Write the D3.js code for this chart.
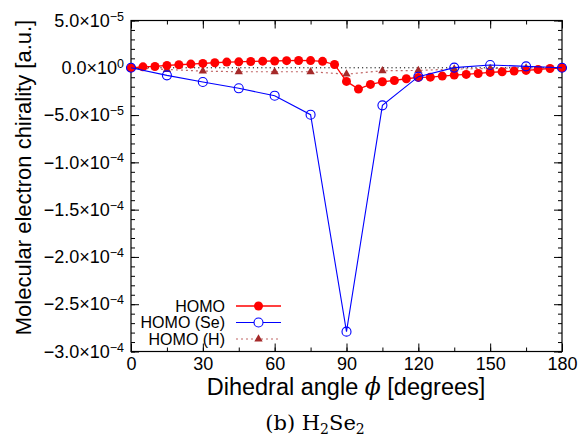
<!DOCTYPE html>
<html>
<head>
<meta charset="utf-8">
<script src="https://cdn.jsdelivr.net/npm/d3@7"></script>
<style>
  body { margin: 0; background: #fff; }
  svg { display: block; font-family: "Liberation Sans", Arial, sans-serif; }
</style>
</head>
<body>
<div id="chart"></div>
<script>
// angles (degrees)
const anglesFine = [0, 5, 10, 15, 20, 25, 30, 35, 40, 45, 50, 55, 60, 65, 70, 75, 80, 85, 90,
    95, 100, 105, 110, 115, 120, 125, 130, 135, 140, 145, 150, 155, 160, 165, 170, 175, 180];
const anglesCoarse = [0, 15, 30, 45, 60, 75, 90, 105, 120, 135, 150, 165, 180];

// values in units of 1e-5 a.u.
const homo = [0, 0.10, 0.14, 0.25, 0.32, 0.39, 0.46, 0.53, 0.60, 0.63, 0.67, 0.70, 0.72, 0.75, 0.77, 0.76, 0.68, 0.35,
    -1.44, -2.25, -1.76, -1.48, -1.34, -1.16, -1.02, -0.99, -0.88, -0.77, -0.70, -0.60,
    -0.49, -0.42, -0.35, -0.28, -0.18, -0.07, 0];
const homoSe = [0, -0.8, -1.5, -2.17, -2.95, -4.96, -27.9, -3.97, -0.94, 0.02, 0.30, 0.15, 0];
const homoH = [0, -0.18, -0.35, -0.42, -0.42, -0.42, -0.67, -0.32, -0.28, -0.14, -0.07, -0.02, 0];

const xTicks = [0, 30, 60, 90, 120, 150, 180];
const yTicks = [5e-5, 0, -5e-5, -1e-4, -1.5e-4, -2e-4, -2.5e-4, -3e-4];

const legendNames = ["HOMO", "HOMO (Se)", "HOMO (H)"];

const width = 588, height = 441;
const margin = { top: 20.5, right: 26, bottom: 89.5, left: 131 };
const w = width - margin.left - margin.right;
const h = height - margin.top - margin.bottom;

const svg = d3.select("#chart").append("svg")
    .attr("width", width)
    .attr("height", height);

const g = svg.append("g")
    .attr("transform", `translate(${margin.left},${margin.top})`);

const x = d3.scaleLinear().domain([0, 180]).range([0, w]);
const y = d3.scaleLinear().domain([-3e-4, 5e-5]).range([h, 0]);

const minorX = d3.range(0, 181, 15);
const minorY = d3.range(-30, 6, 1).map(d => d * 1e-5);

// ticks (inward, mirrored)
function tickStyle(sel) {
    sel.select(".domain").remove();
    sel.selectAll(".tick line").attr("stroke", "#000").attr("stroke-width", 1);
}
g.append("g").call(d3.axisLeft(y).tickValues(minorY).tickSize(-4).tickFormat("")).call(tickStyle);
g.append("g").attr("transform", `translate(${w},0)`)
    .call(d3.axisRight(y).tickValues(minorY).tickSize(-4).tickFormat("")).call(tickStyle);
g.append("g").attr("transform", `translate(${w},0)`)
    .call(d3.axisRight(y).tickValues(yTicks).tickSize(-8).tickFormat("")).call(tickStyle);
g.append("g").call(d3.axisTop(x).tickValues(minorX).tickSize(-4).tickFormat("")).call(tickStyle);
g.append("g").attr("transform", `translate(0,${h})`)
    .call(d3.axisBottom(x).tickValues(minorX).tickSize(-4).tickFormat("")).call(tickStyle);
g.append("g").call(d3.axisTop(x).tickValues(xTicks).tickSize(-8).tickFormat("")).call(tickStyle);

// bottom axis with labels
const xAxis = g.append("g").attr("transform", `translate(0,${h})`)
    .call(d3.axisBottom(x).tickValues(xTicks).tickSize(-8).tickPadding(6));
tickStyle(xAxis);
xAxis.selectAll("text").attr("font-size", 18).attr("fill", "#000")
    .attr("font-family", "Liberation Sans, Arial, sans-serif");

// left axis with exponent labels
const yAxis = g.append("g")
    .call(d3.axisLeft(y).tickValues(yTicks).tickSize(-8).tickPadding(7).tickFormat(""));
tickStyle(yAxis);
yAxis.selectAll(".tick text").each(function (d) {
    const t = d3.select(this).attr("font-size", 18).attr("fill", "#000")
        .attr("font-family", "Liberation Sans, Arial, sans-serif");
    let e = 0, m = 0;
    if (d !== 0) {
        e = Math.floor(Math.log10(Math.abs(d)) + 1e-9);
        m = d / Math.pow(10, e);
    }
    const ms = (m < 0 ? "\u2212" : "") + Math.abs(m).toFixed(1) + "\u00d710";
    const es = (e < 0 ? "\u2212" : "") + Math.abs(e);
    t.text(null);
    t.append("tspan").text(ms);
    t.append("tspan").attr("dy", "-0.5em").attr("font-size", 12.5).text(es);
});

// frame
g.append("rect").attr("width", w).attr("height", h)
    .attr("fill", "none").attr("stroke", "#000").attr("stroke-width", 1.2);

// zero line
g.append("line")
    .attr("x1", 0).attr("x2", w).attr("y1", y(0)).attr("y2", y(0))
    .attr("stroke", "#000").attr("stroke-width", 1).attr("stroke-dasharray", "1.2,3");

const fine = anglesFine.map((a, i) => [a, homo[i] * 1e-5]);
const se = anglesCoarse.map((a, i) => [a, homoSe[i] * 1e-5]);
const hh = anglesCoarse.map((a, i) => [a, homoH[i] * 1e-5]);

const line = d3.line().x(d => x(d[0])).y(d => y(d[1]));
const tri = d3.symbol().type(d3.symbolTriangle).size(30);

// HOMO (H)
g.append("path").datum(hh).attr("d", line)
    .attr("fill", "none").attr("stroke", "#b54a4a").attr("stroke-width", 1.2)
    .attr("stroke-dasharray", "2,3").attr("opacity", 0.85);
g.selectAll(".tri").data(hh).enter().append("path")
    .attr("class", "tri")
    .attr("transform", d => `translate(${x(d[0])},${y(d[1])})`)
    .attr("d", tri).attr("fill", "#a52a2a");

// HOMO
g.append("path").datum(fine).attr("d", line)
    .attr("fill", "none").attr("stroke", "#ff0000").attr("stroke-width", 1.3);
g.selectAll(".dot").data(fine).enter().append("circle")
    .attr("class", "dot")
    .attr("cx", d => x(d[0])).attr("cy", d => y(d[1])).attr("r", 4.5)
    .attr("fill", "#ff0000");

// HOMO (Se)
g.append("path").datum(se).attr("d", line)
    .attr("fill", "none").attr("stroke", "#0000ff").attr("stroke-width", 1.1);
g.selectAll(".ring").data(se).enter().append("circle")
    .attr("class", "ring")
    .attr("cx", d => x(d[0])).attr("cy", d => y(d[1])).attr("r", 4.5)
    .attr("fill", "none").attr("stroke", "#0000ff").attr("stroke-width", 1.1);

// legend
const legend = svg.append("g");
const legendY = [306, 322.5, 339];
legendNames.forEach((name, i) => {
    const ly = legendY[i];
    legend.append("text").attr("x", 225).attr("y", ly).attr("dy", "0.35em")
        .attr("text-anchor", "end").attr("font-size", 16).attr("fill", "#000").text(name);
    const ln = legend.append("line").attr("x1", 236).attr("x2", 281).attr("y1", ly).attr("y2", ly);
    if (i === 0) {
        ln.attr("stroke", "#ff0000").attr("stroke-width", 1.3);
        legend.append("circle").attr("cx", 258.5).attr("cy", ly).attr("r", 4.5).attr("fill", "#ff0000");
    } else if (i === 1) {
        ln.attr("stroke", "#0000ff").attr("stroke-width", 1.1);
        legend.append("circle").attr("cx", 258.5).attr("cy", ly).attr("r", 4.5)
            .attr("fill", "#fff").attr("stroke", "#0000ff").attr("stroke-width", 1.1);
    } else {
        ln.attr("stroke", "#b54a4a").attr("stroke-width", 1.2).attr("stroke-dasharray", "2,3").attr("opacity", 0.85);
        legend.append("path").attr("transform", `translate(258.5,${ly})`).attr("d", tri).attr("fill", "#a52a2a");
    }
});

// axis titles
svg.append("text")
    .attr("transform", `translate(31,${177.5}) rotate(-90)`)
    .attr("text-anchor", "middle").attr("font-size", 22).attr("fill", "#000")
    .text("Molecular electron chirality [a.u.]");

const xt = svg.append("text")
    .attr("x", 346).attr("y", 395)
    .attr("text-anchor", "middle").attr("font-size", 23.5).attr("fill", "#000");
xt.append("tspan").text("Dihedral angle ");
xt.append("tspan").attr("font-family", "DejaVu Serif, serif").attr("font-style", "italic").text("\u03d5");
xt.append("tspan").text(" [degrees]");

// caption
const cap = svg.append("text")
    .attr("x", 315).attr("y", 430)
    .attr("text-anchor", "middle").attr("font-size", 21).attr("fill", "#000")
    .attr("font-family", "DejaVu Serif, serif");
cap.append("tspan").text("(b) H");
cap.append("tspan").attr("dy", 4).attr("font-size", 14).text("2");
cap.append("tspan").attr("dy", -4).text("Se");
cap.append("tspan").attr("dy", 4).attr("font-size", 14).text("2");
</script>
</body>
</html>
